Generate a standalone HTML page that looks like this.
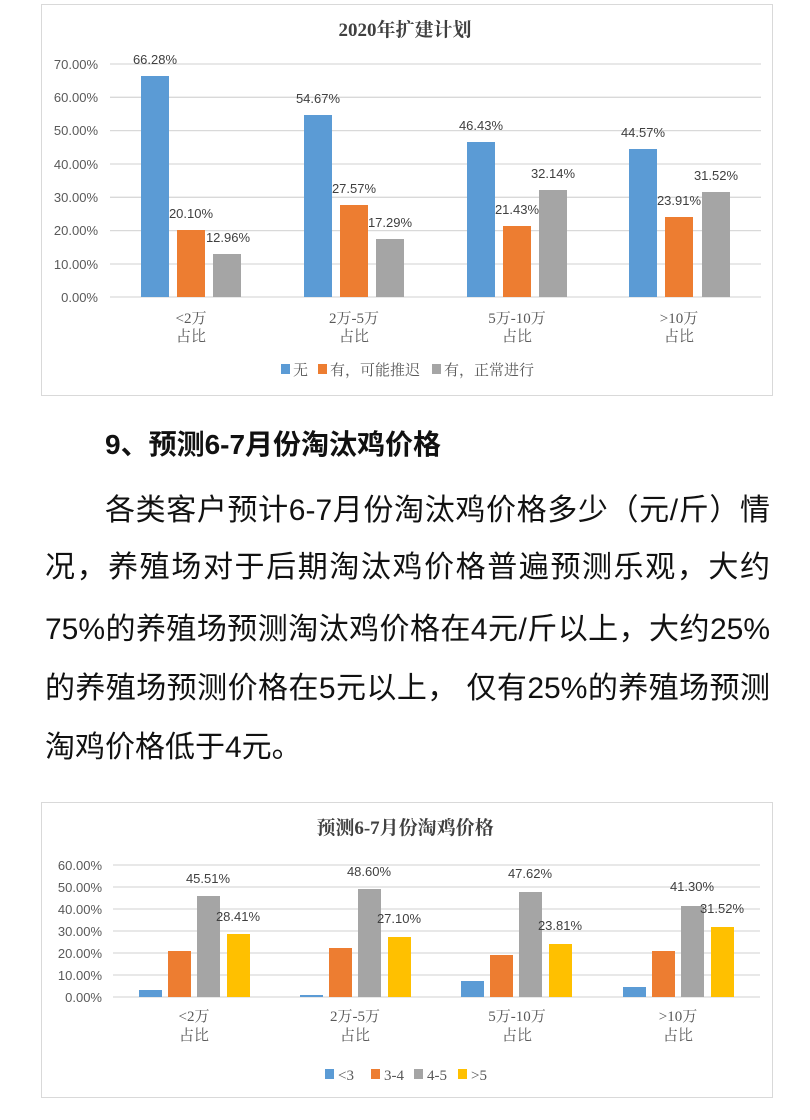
<!DOCTYPE html>
<html><head><meta charset="utf-8"><style>
html,body{margin:0;padding:0;background:#fff;}
body{width:810px;height:1120px;position:relative;overflow:hidden;font-family:"Liberation Sans","Noto Sans CJK SC",sans-serif;}
svg{position:absolute;left:0;top:0;}
.ln{position:absolute;font-size:30px;color:#111;white-space:nowrap;line-height:36px;}
.j{text-align:justify;text-align-last:justify;}
</style></head><body>
<svg width="810" height="1120" font-family="'Liberation Serif','Noto Serif CJK SC',serif">
<!-- chart 1 -->
<rect x="41.5" y="4.5" width="731" height="391" fill="#fff" stroke="#d9d9d9"/>
<text x="405" y="36" text-anchor="middle" font-size="19" font-weight="bold" fill="#404040">2020年扩建计划</text>
<g stroke="#d9d9d9" stroke-width="1.3">
<line x1="110" x2="761" y1="64" y2="64"/><line x1="110" x2="761" y1="97.3" y2="97.3"/><line x1="110" x2="761" y1="130.6" y2="130.6"/><line x1="110" x2="761" y1="164" y2="164"/><line x1="110" x2="761" y1="197.3" y2="197.3"/><line x1="110" x2="761" y1="230.6" y2="230.6"/><line x1="110" x2="761" y1="264" y2="264"/><line x1="110" x2="761" y1="297" y2="297"/>
</g>
<g font-size="13" fill="#595959" text-anchor="end" font-family="'Liberation Sans',sans-serif">
<text x="98" y="69">70.00%</text><text x="98" y="102">60.00%</text><text x="98" y="135">50.00%</text><text x="98" y="169">40.00%</text><text x="98" y="202">30.00%</text><text x="98" y="235">20.00%</text><text x="98" y="269">10.00%</text><text x="98" y="302">0.00%</text>
</g>
<g>
<rect x="141" y="76" width="28" height="221" fill="#5b9bd5"/><rect x="177" y="230" width="28" height="67" fill="#ed7d31"/><rect x="213" y="254" width="28" height="43" fill="#a5a5a5"/>
<rect x="304" y="115" width="28" height="182" fill="#5b9bd5"/><rect x="340" y="205" width="28" height="92" fill="#ed7d31"/><rect x="376" y="239" width="28" height="58" fill="#a5a5a5"/>
<rect x="467" y="142" width="28" height="155" fill="#5b9bd5"/><rect x="503" y="226" width="28" height="71" fill="#ed7d31"/><rect x="539" y="190" width="28" height="107" fill="#a5a5a5"/>
<rect x="629" y="149" width="28" height="148" fill="#5b9bd5"/><rect x="665" y="217" width="28" height="80" fill="#ed7d31"/><rect x="702" y="192" width="28" height="105" fill="#a5a5a5"/>
</g>
<g font-size="13" fill="#404040" text-anchor="middle" font-family="'Liberation Sans',sans-serif">
<text x="155" y="64">66.28%</text><text x="191" y="218">20.10%</text><text x="228" y="242">12.96%</text>
<text x="318" y="103">54.67%</text><text x="354" y="193">27.57%</text><text x="390" y="227">17.29%</text>
<text x="481" y="130">46.43%</text><text x="517" y="214">21.43%</text><text x="553" y="178">32.14%</text>
<text x="643" y="137">44.57%</text><text x="679" y="205">23.91%</text><text x="716" y="180">31.52%</text>
</g>
<g font-size="15" fill="#595959" text-anchor="middle">
<text x="191" y="323">&lt;2万</text><text x="191" y="341">占比</text>
<text x="354" y="323">2万-5万</text><text x="354" y="341">占比</text>
<text x="517" y="323">5万-10万</text><text x="517" y="341">占比</text>
<text x="679" y="323">&gt;10万</text><text x="679" y="341">占比</text>
</g>
<g font-size="15" fill="#595959">
<rect x="281" y="364" width="9" height="10" fill="#5b9bd5"/><text x="293" y="375">无</text>
<rect x="318" y="364" width="9" height="10" fill="#ed7d31"/><text x="330" y="375">有，可能推迟</text>
<rect x="432" y="364" width="9" height="10" fill="#a5a5a5"/><text x="444" y="375">有，正常进行</text>
</g>
<!-- chart 2 -->
<rect x="41.5" y="802.5" width="731" height="295" fill="#fff" stroke="#d9d9d9"/>
<text x="405" y="834" text-anchor="middle" font-size="19" font-weight="bold" fill="#404040">预测6-7月份淘鸡价格</text>
<g stroke="#d9d9d9" stroke-width="1.3">
<line x1="113" x2="760" y1="865" y2="865"/><line x1="113" x2="760" y1="887" y2="887"/><line x1="113" x2="760" y1="909" y2="909"/><line x1="113" x2="760" y1="931" y2="931"/><line x1="113" x2="760" y1="953" y2="953"/><line x1="113" x2="760" y1="975" y2="975"/><line x1="113" x2="760" y1="997" y2="997"/>
</g>
<g font-size="13" fill="#595959" text-anchor="end" font-family="'Liberation Sans',sans-serif">
<text x="102" y="870">60.00%</text><text x="102" y="892">50.00%</text><text x="102" y="914">40.00%</text><text x="102" y="936">30.00%</text><text x="102" y="958">20.00%</text><text x="102" y="980">10.00%</text><text x="102" y="1002">0.00%</text>
</g>
<g>
<rect x="139" y="990" width="23" height="7" fill="#5b9bd5"/><rect x="168" y="951" width="23" height="46" fill="#ed7d31"/><rect x="197" y="896" width="23" height="101" fill="#a5a5a5"/><rect x="227" y="934" width="23" height="63" fill="#ffc000"/>
<rect x="300" y="995" width="23" height="2" fill="#5b9bd5"/><rect x="329" y="948" width="23" height="49" fill="#ed7d31"/><rect x="358" y="889" width="23" height="108" fill="#a5a5a5"/><rect x="388" y="937" width="23" height="60" fill="#ffc000"/>
<rect x="461" y="981" width="23" height="16" fill="#5b9bd5"/><rect x="490" y="955" width="23" height="42" fill="#ed7d31"/><rect x="519" y="892" width="23" height="105" fill="#a5a5a5"/><rect x="549" y="944" width="23" height="53" fill="#ffc000"/>
<rect x="623" y="987" width="23" height="10" fill="#5b9bd5"/><rect x="652" y="951" width="23" height="46" fill="#ed7d31"/><rect x="681" y="906" width="23" height="91" fill="#a5a5a5"/><rect x="711" y="927" width="23" height="70" fill="#ffc000"/>
</g>
<g font-size="13" fill="#404040" text-anchor="middle" font-family="'Liberation Sans',sans-serif">
<text x="208" y="883">45.51%</text><text x="238" y="921">28.41%</text>
<text x="369" y="876">48.60%</text><text x="399" y="923">27.10%</text>
<text x="530" y="878">47.62%</text><text x="560" y="930">23.81%</text>
<text x="692" y="891">41.30%</text><text x="722" y="913">31.52%</text>
</g>
<g font-size="15" fill="#595959" text-anchor="middle">
<text x="194" y="1021">&lt;2万</text><text x="194" y="1040">占比</text>
<text x="355" y="1021">2万-5万</text><text x="355" y="1040">占比</text>
<text x="517" y="1021">5万-10万</text><text x="517" y="1040">占比</text>
<text x="678" y="1021">&gt;10万</text><text x="678" y="1040">占比</text>
</g>
<g font-size="15" fill="#595959">
<rect x="325" y="1069" width="9" height="10" fill="#5b9bd5"/><text x="338" y="1080">&lt;3</text>
<rect x="371" y="1069" width="9" height="10" fill="#ed7d31"/><text x="384" y="1080">3-4</text>
<rect x="414" y="1069" width="9" height="10" fill="#a5a5a5"/><text x="427" y="1080">4-5</text>
<rect x="458" y="1069" width="9" height="10" fill="#ffc000"/><text x="471" y="1080">&gt;5</text>
</g>
</svg>
<div class="ln" style="left:105px;top:427px;font-weight:bold;font-size:28px;">9、预测6-7月份淘汰鸡价格</div>
<div class="ln j" style="left:105px;top:493px;width:665px;">各类客户预计6-7月份淘汰鸡价格多少（元/斤）情</div>
<div class="ln j" style="left:45px;top:550px;width:725px;">况，养殖场对于后期淘汰鸡价格普遍预测乐观，大约</div>
<div class="ln j" style="left:45px;top:612px;width:725px;">75%的养殖场预测淘汰鸡价格在4元/斤以上，大约25%</div>
<div class="ln j" style="left:45px;top:671px;width:725px;">的养殖场预测价格在5元以上， 仅有25%的养殖场预测</div>
<div class="ln" style="left:45px;top:730px;">淘鸡价格低于4元。</div>
</body></html>
